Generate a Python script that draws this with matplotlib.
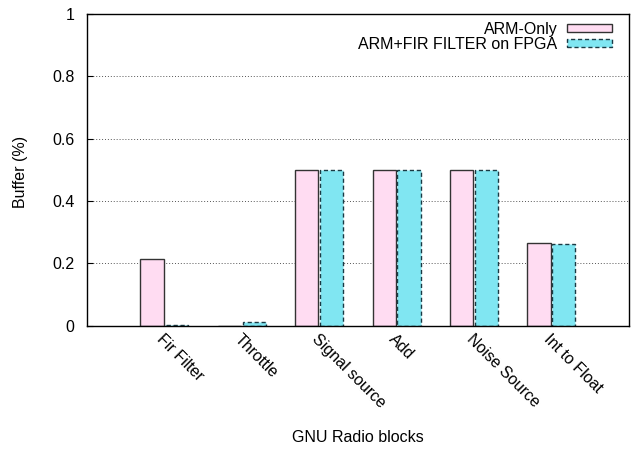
import numpy as np
import matplotlib
matplotlib.use("Agg")
import matplotlib.pyplot as plt

plt.rcParams['font.family'] = ['Liberation Sans', 'DejaVu Sans']

# Data
blocks = ["Fir Filter", "Throttle", "Signal source", "Add", "Noise Source", "Int to Float"]
arm_only = [0.215, 0.0, 0.5, 0.5, 0.5, 0.265]
arm_fpga = [0.002, 0.012, 0.5, 0.5, 0.5, 0.263]

x = np.arange(len(blocks))
w = 0.30
off = 0.16
fs = 11.5

fig = plt.figure(figsize=(6.34, 4.5), dpi=100)
ax = fig.add_axes([0.137, 0.276, 0.855, 0.693])

ax.bar(x - off, arm_only, w, color="#ffdcf2", edgecolor="#333333",
       linewidth=1.0, label="ARM-Only", zorder=2)
ax.bar(x + off, arm_fpga, w, color="#80e6f2", edgecolor="#1a3a44",
       linewidth=1.0, linestyle=(0, (3, 2)), label="ARM+FIR FILTER on FPGA", zorder=2)

ax.set_xlim(-1.0, 6.0)
ax.set_ylim(0, 1)
ax.set_yticks([0, 0.2, 0.4, 0.6, 0.8, 1])
ax.set_yticklabels(["0", "0.2", "0.4", "0.6", "0.8", "1"], fontsize=fs)
ax.set_xticks(x)
ax.set_xticklabels(blocks, rotation=-45, ha="left", va="top",
                   rotation_mode="anchor", fontsize=fs)
ax.tick_params(axis="x", length=0, pad=4)
ax.tick_params(axis="y", direction="in", length=4, pad=9)

for y in [0.2, 0.4, 0.6, 0.8]:
    ax.axhline(y, color="#555555", linestyle=(0, (1, 2)), linewidth=0.7, zorder=1)

for s in ax.spines.values():
    s.set_linewidth(1.0)

fig.text(20 / 634, 1 - 172 / 450, "Buffer (%)", rotation=90, fontsize=fs,
         ha="center", va="center")
fig.text(358 / 634, 1 - 438 / 450, "GNU Radio blocks", fontsize=fs,
         ha="center", va="center")

leg = ax.legend(loc="upper right", bbox_to_anchor=(0.9686, 0.975),
                frameon=False, markerfirst=False, fontsize=fs,
                handlelength=2.8, handleheight=0.35, labelspacing=0.0,
                borderaxespad=0, borderpad=0, handletextpad=0.6)

fig.savefig("out.png", dpi=100)
